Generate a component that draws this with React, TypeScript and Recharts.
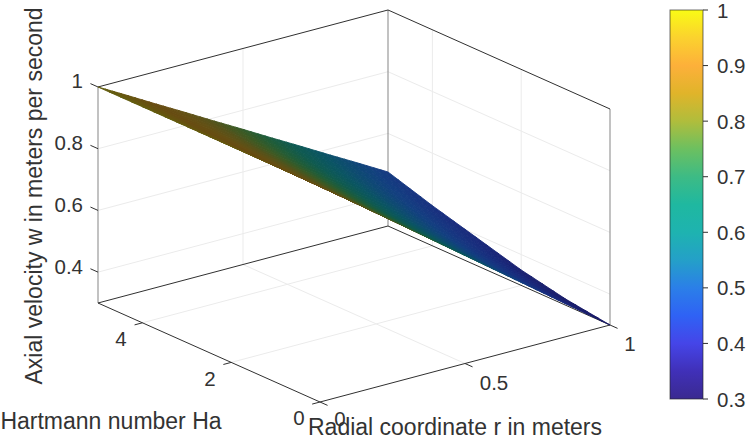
import React from 'react';
import { ScatterChart, Scatter, XAxis, YAxis } from 'recharts';

const W = 747;
const H = 437;
const FONT = '"Liberation Sans", Arial, sans-serif';
const TEXT = '#333333';

// Data
const radial = [0, 0.1, 0.2, 0.3, 0.4, 0.5, 0.6, 0.7, 0.8, 0.9, 1];
const hartmann = [0, 1, 2, 3, 4, 5];
const wHa0 = [1, 0.93, 0.86, 0.79, 0.72, 0.65, 0.58, 0.51, 0.44, 0.37, 0.3];
const wHa1 = [1, 0.932, 0.864, 0.796, 0.728, 0.66, 0.592, 0.524, 0.456, 0.388, 0.32];
const wHa2 = [1, 0.935, 0.87, 0.805, 0.74, 0.675, 0.61, 0.545, 0.48, 0.415, 0.35];
const wHa3 = [1, 0.939, 0.878, 0.817, 0.756, 0.695, 0.634, 0.573, 0.512, 0.451, 0.39];
const wHa4 = [1, 0.943, 0.886, 0.829, 0.772, 0.715, 0.658, 0.601, 0.544, 0.487, 0.43];
const wHa5 = [1, 0.948, 0.895, 0.843, 0.79, 0.738, 0.685, 0.633, 0.58, 0.528, 0.475];
const velocity = [wHa0, wHa1, wHa2, wHa3, wHa4, wHa5];

const rTicks = [0, 0.5, 1];
const haTicks = [0, 2, 4];
const wTicks = [0.4, 0.6, 0.8, 1];
const barTicks = [0.3, 0.4, 0.5, 0.6, 0.7, 0.8, 0.9, 1];

const rMax = 1;
const haMax = 5;
const wMin = 0.3;
const wMax = 1;

const barLevels = [0.3, 0.35, 0.4, 0.45, 0.5, 0.55, 0.6, 0.65, 0.7, 0.75, 0.8, 0.85, 0.9, 0.95, 1];
const barColours = ['#3a2a90', '#4030b8', '#4545e8', '#2f62f5', '#2b7fe8', '#24a0c8', '#1eb3b0', '#1fb8a0', '#3dbb85', '#6cc060', '#b0bd3c', '#e0b42a', '#fdb03a', '#fbd22e', '#f9fb15'];
const surfaceColours = ['#1b1a66', '#1b2170', '#1a2a7c', '#173480', '#133f80', '#0e4a72', '#0a5562', '#0f5a50', '#205c38', '#3c5a24', '#56521a', '#645014', '#684c12', '#665410', '#626010'];

// Projection of the 3-D axes on the page plane
const project = (r: number, ha: number, w: number) => ({
  u: 320 + 290 * r - 44.4 * ha,
  v: 402 - 77 * r - 19.8 * ha - 308.6 * (w - wMin),
});

const seg = (a: { u: number; v: number }, b: { u: number; v: number }) => [a, b];

const boxDark = [
  seg(project(0, haMax, wMax), project(rMax, haMax, wMax)),
  seg(project(rMax, haMax, wMax), project(rMax, 0, wMax)),
  seg(project(0, haMax, wMin), project(0, 0, wMin)),
  seg(project(0, 0, wMin), project(rMax, 0, wMin)),
  seg(project(0, haMax, wMin), project(rMax, haMax, wMin)),
  seg(project(rMax, haMax, wMin), project(rMax, 0, wMin)),
];
const boxGrey = [
  seg(project(0, haMax, wMin), project(0, haMax, wMax)),
  seg(project(rMax, haMax, wMin), project(rMax, haMax, wMax)),
  seg(project(rMax, 0, wMin), project(rMax, 0, wMax)),
];
const grid = [
  ...wTicks.filter((w) => w < wMax).flatMap((w) => [
    seg(project(0, haMax, w), project(rMax, haMax, w)),
    seg(project(rMax, haMax, w), project(rMax, 0, w)),
  ]),
  seg(project(0.5, haMax, wMin), project(0.5, haMax, wMax)),
  seg(project(0.5, 0, wMin), project(0.5, haMax, wMin)),
  ...[2, 4].flatMap((ha) => [
    seg(project(rMax, ha, wMin), project(rMax, ha, wMax)),
    seg(project(0, ha, wMin), project(rMax, ha, wMin)),
  ]),
];
const tickMarks = [
  ...rTicks.map((r) => seg(project(r, 0, wMin), project(r, -0.17, wMin))),
  ...haTicks.map((ha) => seg(project(0, ha, wMin), project(-0.027, ha, wMin))),
  ...wTicks.map((w) => seg(project(0, haMax, w), project(0, haMax + 0.17, w))),
];

const bar = { left: 670, right: 703, top: 10, bottom: 399 };
const barY = (w: number) => bar.bottom - ((w - wMin) / (wMax - wMin)) * (bar.bottom - bar.top);
const barTickMarks = barTicks.map((w) => [{ u: bar.right, v: barY(w) }, { u: bar.right + 5, v: barY(w) }]);

const fs = 20.5;
const ls = 23;
const labels = [
  ...wTicks.map((w) => ({ u: 83, v: project(0, haMax, w).v - 6, t: String(w), anchor: 'end', size: fs, rot: 0 })),
  { u: 121, v: 338, t: '4', anchor: 'middle', size: fs, rot: 0 },
  { u: 210, v: 378, t: '2', anchor: 'middle', size: fs, rot: 0 },
  { u: 299, v: 417, t: '0', anchor: 'middle', size: fs, rot: 0 },
  { u: 340, v: 418, t: '0', anchor: 'middle', size: fs, rot: 0 },
  { u: 494, v: 382, t: '0.5', anchor: 'middle', size: fs, rot: 0 },
  { u: 630, v: 343, t: '1', anchor: 'middle', size: fs, rot: 0 },
  ...barTicks.map((w) => ({ u: 717, v: barY(w), t: String(w), anchor: 'start', size: fs, rot: 0 })),
  { u: 111, v: 421, t: 'Hartmann number Ha', anchor: 'middle', size: ls, rot: 0 },
  { u: 455, v: 426.5, t: 'Radial coordinate r in meters', anchor: 'middle', size: ls, rot: 0 },
  { u: 34, v: 196, t: 'Axial velocity w in meters per second', anchor: 'middle', size: ls, rot: -90 },
];

const lerpColour = (levels: number[], colours: string[], w: number) => {
  const c = Math.max(levels[0], Math.min(levels[levels.length - 1], w));
  let i = 0;
  while (i < levels.length - 2 && c > levels[i + 1]) i++;
  const t = (c - levels[i]) / (levels[i + 1] - levels[i]);
  const parse = (s: string) => [1, 3, 5].map((k) => parseInt(s.slice(k, k + 2), 16));
  const a = parse(colours[i]);
  const b = parse(colours[i + 1]);
  return `rgb(${a.map((x, k) => Math.round(x + (b[k] - x) * t)).join(',')})`;
};

type Facet = { u: number; v: number; r0: number; r1: number; h0: number; h1: number; w00: number; w10: number; w01: number; w11: number };
const facets: Facet[] = [];
for (let j = 0; j < hartmann.length - 1; j++) {
  for (let i = 0; i < radial.length - 1; i++) {
    const r0 = radial[i];
    const r1 = radial[i + 1];
    const h0 = hartmann[j];
    const h1 = hartmann[j + 1];
    const w00 = velocity[j][i];
    const w10 = velocity[j][i + 1];
    const w01 = velocity[j + 1][i];
    const w11 = velocity[j + 1][i + 1];
    const c = project((r0 + r1) / 2, (h0 + h1) / 2, (w00 + w10 + w01 + w11) / 4);
    facets.push({ ...c, r0, r1, h0, h1, w00, w10, w01, w11 });
  }
}

const SUB = 4;
const FacetShape = (props: any) => {
  const f: Facet = props.payload;
  const dx = props.cx - f.u;
  const dy = props.cy - f.v;
  const at = (a: number, b: number) => {
    const w = f.w00 * (1 - a) * (1 - b) + f.w10 * a * (1 - b) + f.w01 * (1 - a) * b + f.w11 * a * b;
    const p = project(f.r0 + (f.r1 - f.r0) * a, f.h0 + (f.h1 - f.h0) * b, w);
    return { x: p.u + dx, y: p.v + dy, w };
  };
  const polys = [];
  for (let a = 0; a < SUB; a++) {
    for (let b = 0; b < SUB; b++) {
      const ps = [at(a / SUB, b / SUB), at((a + 1) / SUB, b / SUB), at((a + 1) / SUB, (b + 1) / SUB), at(a / SUB, (b + 1) / SUB)];
      const col = lerpColour(barLevels, surfaceColours, (ps[0].w + ps[1].w + ps[2].w + ps[3].w) / 4);
      polys.push(
        <polygon key={`${a}-${b}`} points={ps.map((p) => `${p.x},${p.y}`).join(' ')} fill={col} stroke={col} strokeWidth={0.9} strokeLinejoin="round" shapeRendering="geometricPrecision" />
      );
    }
  }
  return <g>{polys}</g>;
};

const TextShape = (props: any) => {
  const d = props.payload;
  return (
    <text
      x={props.cx}
      y={props.cy}
      textAnchor={d.anchor}
      dominantBaseline="central"
      fontFamily={FONT}
      fontSize={d.size}
      fill={TEXT}
      transform={d.rot ? `rotate(${d.rot} ${props.cx} ${props.cy})` : undefined}
    >
      {d.t}
    </text>
  );
};

const BarShape = (props: any) => {
  const h = bar.bottom - bar.top;
  const w = bar.right - bar.left;
  return (
    <g>
      <defs>
        <linearGradient id="colourbar" x1="0" y1="1" x2="0" y2="0">
          {barLevels.map((l, i) => (
            <stop key={l} offset={(l - wMin) / (wMax - wMin)} stopColor={barColours[i]} />
          ))}
        </linearGradient>
      </defs>
      <rect x={props.cx - w / 2} y={props.cy - h / 2} width={w} height={h} fill="url(#colourbar)" stroke="#262626" strokeOpacity={0.65} strokeWidth={1} />
    </g>
  );
};

const none = () => <g />;

export default function App() {
  const line = (d: any, key: string, stroke: string, strokeWidth: number) => (
    <Scatter key={key} data={d} shape={none} line={{ stroke, strokeWidth }} isAnimationActive={false} />
  );
  return (
    <div style={{ position: 'absolute', left: 0, top: 0, width: W, height: H, background: '#fff' }}>
      <ScatterChart width={W} height={H} margin={{ top: 0, right: 0, bottom: 0, left: 0 }}>
        <XAxis dataKey="u" type="number" domain={[0, W]} hide allowDataOverflow />
        <YAxis dataKey="v" type="number" domain={[0, H]} reversed hide allowDataOverflow />
        {grid.map((d, i) => line(d, `g${i}`, '#ebebeb', 1))}
        {boxGrey.map((d, i) => line(d, `bg${i}`, '#858585', 1))}
        {boxDark.map((d, i) => line(d, `bd${i}`, '#303030', 1))}
        {tickMarks.map((d, i) => line(d, `t${i}`, '#303030', 1))}
        <Scatter data={facets} shape={FacetShape} isAnimationActive={false} />
        <Scatter data={[{ u: (bar.left + bar.right) / 2, v: (bar.top + bar.bottom) / 2 }]} shape={BarShape} isAnimationActive={false} />
        {barTickMarks.map((d, i) => line(d, `bt${i}`, '#303030', 1))}
        <Scatter data={labels} shape={TextShape} isAnimationActive={false} />
      </ScatterChart>
    </div>
  );
}
